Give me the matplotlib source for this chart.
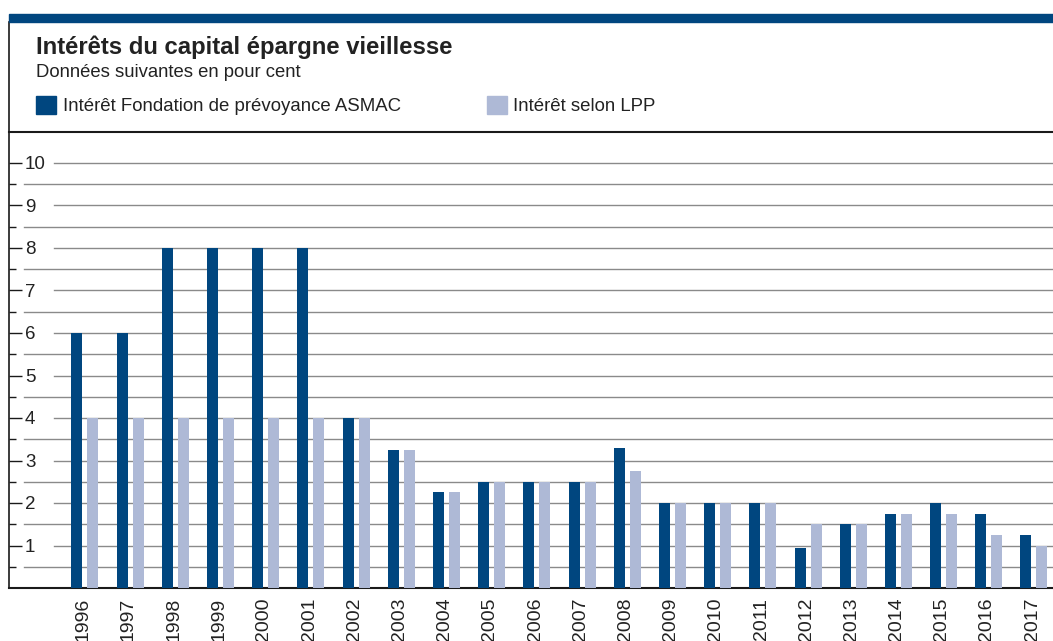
import numpy as np
import matplotlib
matplotlib.use('Agg')
import matplotlib.pyplot as plt
from matplotlib.patches import Rectangle, Patch

plt.rcParams['font.family'] = ['Liberation Sans', 'DejaVu Sans']

years = [str(y) for y in range(1996, 2018)]
asmac = [6, 6, 8, 8, 8, 8, 4, 3.25, 2.25, 2.5, 2.5, 2.5, 3.3, 2, 2, 2, 0.95, 1.5, 1.75, 2, 1.75, 1.25]
lpp = [4, 4, 4, 4, 4, 4, 4, 3.25, 2.25, 2.5, 2.5, 2.5, 2.75, 2, 2, 2, 1.5, 1.5, 1.75, 1.75, 1.25, 1.0]

dark = '#00467f'
light = '#aeb9d6'
txt = '#222222'
grid_c = '#8a8a8a'

W, H = 1053, 641
fig = plt.figure(figsize=(W / 100, H / 100), dpi=100)

def fx(px):
    return px / W

def fy(py):
    return 1 - py / H

# axes: left edge x=9, baseline y=588, top y=22 ; 42.5 px per unit, 45.19 px per year
ax = fig.add_axes([fx(9), fy(588), fx(1044), (588 - 22) / H])
ppu = 42.5
pitch = 45.19
ax.set_ylim(0, (588 - 22) / ppu)
x0 = (85 - 9) / pitch
ax.set_xlim(-x0, 1044 / pitch - x0)

x = np.arange(len(years))
off = 8 / pitch
bw = 11 / pitch
ax.bar(x - off, asmac, width=bw, color=dark, zorder=3)
ax.bar(x + off, lpp, width=bw, color=light, zorder=3)

# gridlines: integers start after the labels, halves start near the axis
ytr = ax.get_yaxis_transform()
for v in np.arange(1, 11):
    ax.plot([(54 - 9) / 1044, 1], [v, v], transform=ytr, color=grid_c, lw=1.0, zorder=1)
for v in np.arange(0.5, 10, 1.0):
    ax.plot([(24 - 9) / 1044, 1], [v, v], transform=ytr, color=grid_c, lw=1.0, zorder=1)

# header separator line
hy = (588 - 132) / ppu
ax.plot([0, 1], [hy, hy], transform=ytr, color='#1a1a1a', lw=1.5, clip_on=False)

ax.set_yticks(np.arange(1, 11))
ax.set_yticks(np.arange(0.5, 10.5, 1.0), minor=True)
ax.set_yticklabels([str(v) for v in range(1, 11)])
ax.tick_params(axis='y', which='major', direction='in', length=9, width=1.0,
               color='#1a1a1a', pad=-11.5, labelsize=13.5, labelcolor=txt)
ax.tick_params(axis='y', which='minor', direction='in', length=5, width=1.0, color='#1a1a1a')
for lab in ax.get_yticklabels():
    lab.set_horizontalalignment('left')

ax.set_xticks(x - 0.04)
ax.set_xticklabels(years, rotation=90)
ax.tick_params(axis='x', length=0, pad=7, labelsize=14, labelcolor=txt)

for s in ['top', 'right']:
    ax.spines[s].set_visible(False)
ax.spines['left'].set_color('#1a1a1a')
ax.spines['left'].set_linewidth(1.2)
ax.spines['bottom'].set_color('#1a1a1a')
ax.spines['bottom'].set_linewidth(1.5)

# top band
fig.patches.append(Rectangle((fx(9), fy(22)), fx(W - 9), (22 - 14) / H,
                             transform=fig.transFigure, color=dark, zorder=5))

fig.text(fx(36), fy(54), 'Intérêts du capital épargne vieillesse', fontsize=17.2,
         fontweight='bold', color=txt, va='baseline', ha='left')
fig.text(fx(36), fy(77), 'Données suivantes en pour cent', fontsize=13.3,
         color=txt, va='baseline', ha='left')

handles = [Patch(color=dark), Patch(color=light)]
leg = fig.legend(handles, ['Intérêt Fondation de prévoyance ASMAC', 'Intérêt selon LPP'],
                 loc='upper left', bbox_to_anchor=(fx(36), fy(96)), ncol=2,
                 frameon=False, fontsize=13.4, borderpad=0, borderaxespad=0,
                 handlelength=1.1, handleheight=1.1, handletextpad=0.33,
                 columnspacing=4.62)
for t in leg.get_texts():
    t.set_color(txt)

fig.savefig('out.png', dpi=100)
